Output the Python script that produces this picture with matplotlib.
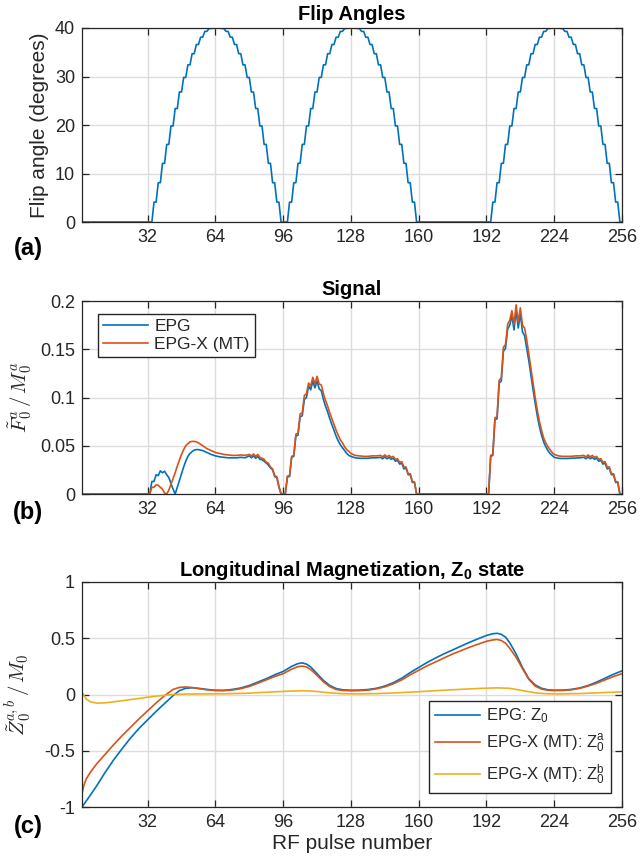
import numpy as np
import matplotlib
matplotlib.use("Agg")
import matplotlib.pyplot as plt
from matplotlib.ticker import FixedLocator, FixedFormatter

# ---------------- data ----------------
pulses = np.arange(1, 257)

# flip-angle lobe (each value held for 2 pulses) and lobe start pulses
lobe_steps = [0, 4.1, 8.1, 12.1, 16.0, 19.8, 23.4, 26.8, 29.8, 32.4, 34.7, 36.6,
              38.1, 39.3, 39.9, 40, 40, 39.9, 39.3, 38.1, 36.6, 34.7, 32.4, 29.8,
              26.8, 23.4, 19.8, 16.0, 12.1, 8.1, 4.1, 0]
lobe_starts = [33, 97, 193]

# Signal, EPG (blue)
sig_epg_n = [1, 33, 34, 35, 36, 37, 38, 39, 40, 41, 42, 43, 44, 45, 46, 47, 48, 49,
             50, 51, 52, 53, 54, 55, 56, 58, 60, 62, 64, 66, 68, 70, 72, 74, 76, 78,
             80, 81, 82, 83, 84, 85, 86, 87, 88, 89, 90, 91, 92, 93, 94, 95,
             97, 98, 99, 100, 101, 102, 103, 104, 105, 106, 107, 108, 109, 110, 111,
             112, 113, 114, 115, 116, 117, 118, 119, 120, 121, 122, 123, 124, 125,
             126, 127, 128, 130, 132, 134, 136, 138, 140, 142, 143, 144, 145, 146,
             147, 148, 149, 150, 151, 152, 153, 154, 155, 156, 157, 158, 159,
             193, 194, 195, 196, 197, 198, 199, 200, 201, 202, 203, 204, 205, 206,
             207, 208, 209, 210, 211, 212, 213, 214, 215, 216, 217, 218, 219, 220,
             221, 222, 223, 224, 226, 228, 230, 232, 234, 236, 238, 239, 240, 241,
             242, 243, 244, 245, 246, 247, 248, 249, 250, 251, 252, 253, 254, 255, 256]
sig_epg_v = [0, 0, 0.013, 0.013, 0.020, 0.019, 0.024, 0.022, 0.0235, 0.020, 0.017,
             0.011, 0.005, 0.0, 0.007, 0.014, 0.021, 0.028, 0.034, 0.039, 0.042,
             0.044, 0.0455, 0.046, 0.046, 0.045, 0.043, 0.041, 0.0395, 0.0385, 0.038,
             0.0375, 0.0375, 0.0375, 0.038, 0.0375, 0.0395, 0.0375, 0.0395, 0.037,
             0.039, 0.036, 0.0355, 0.034, 0.032, 0.030, 0.027, 0.025, 0.018, 0.017,
             0.007, 0.0,
             0.0, 0.018, 0.018, 0.038, 0.039, 0.060, 0.061, 0.080, 0.081, 0.098,
             0.100, 0.112, 0.108, 0.117, 0.110, 0.117, 0.109, 0.107, 0.098, 0.091,
             0.085, 0.078, 0.072, 0.066, 0.060, 0.055, 0.051, 0.048, 0.045, 0.042,
             0.040, 0.039, 0.0375, 0.037, 0.037, 0.037, 0.0375, 0.0375, 0.038,
             0.0365, 0.0385, 0.0365, 0.038, 0.036, 0.037, 0.034, 0.035, 0.031, 0.032,
             0.026, 0.027, 0.020, 0.020, 0.012, 0.012, 0.0,
             0.0, 0.039, 0.040, 0.077, 0.078, 0.115, 0.117, 0.148, 0.151, 0.171,
             0.175, 0.185, 0.170, 0.190, 0.172, 0.187, 0.168, 0.164, 0.151, 0.138,
             0.123, 0.108, 0.094, 0.081, 0.070, 0.061, 0.054, 0.049, 0.045, 0.042,
             0.040, 0.038, 0.037, 0.0368, 0.0368, 0.037, 0.0373, 0.0375, 0.038,
             0.0365, 0.0385, 0.0365, 0.038, 0.036, 0.037, 0.034, 0.035, 0.031, 0.032,
             0.026, 0.027, 0.020, 0.020, 0.012, 0.012, 0.0, 0.0]

# Signal, EPG-X (MT) (orange)
sig_mt_n = [1, 33, 34, 35, 36, 37, 38, 39, 40, 41, 42, 43, 44, 45, 46, 47, 48, 49,
            50, 51, 52, 53, 54, 55, 56, 58, 60, 62, 64, 66, 68, 70, 72, 74, 76, 78,
            80, 81, 82, 83, 84, 85, 86, 87, 88, 89, 90, 91, 92, 93, 94, 95,
            97, 98, 99, 100, 101, 102, 103, 104, 105, 106, 107, 108, 109, 110, 111,
            112, 113, 114, 115, 116, 117, 118, 119, 120, 121, 122, 123, 124, 125,
            126, 127, 128, 130, 132, 134, 136, 138, 140, 142, 143, 144, 145, 146,
            147, 148, 149, 150, 151, 152, 153, 154, 155, 156, 157, 158, 159,
            193, 194, 195, 196, 197, 198, 199, 200, 201, 202, 203, 204, 205, 206,
            207, 208, 209, 210, 211, 212, 213, 214, 215, 216, 217, 218, 219, 220,
            221, 222, 223, 224, 226, 228, 230, 232, 234, 236, 238, 239, 240, 241,
            242, 243, 244, 245, 246, 247, 248, 249, 250, 251, 252, 253, 254, 255, 256]
sig_mt_v = [0, 0, 0.007, 0.007, 0.0095, 0.009, 0.007, 0.005, 0.001, 0.0, 0.004,
            0.010, 0.016, 0.022, 0.029, 0.035, 0.041, 0.046, 0.050, 0.052, 0.054,
            0.0545, 0.0545, 0.054, 0.053, 0.050, 0.047, 0.045, 0.043, 0.042, 0.041,
            0.0405, 0.040, 0.040, 0.0405, 0.040, 0.041, 0.0395, 0.0415, 0.039, 0.041,
            0.038, 0.037, 0.036, 0.033, 0.032, 0.028, 0.026, 0.019, 0.018, 0.008, 0.0,
            0.0, 0.0185, 0.019, 0.039, 0.040, 0.062, 0.063, 0.083, 0.084, 0.102,
            0.104, 0.115, 0.112, 0.121, 0.114, 0.122, 0.114, 0.113, 0.104, 0.097,
            0.091, 0.084, 0.078, 0.072, 0.066, 0.061, 0.056, 0.053, 0.049, 0.046,
            0.044, 0.042, 0.040, 0.0395, 0.039, 0.039, 0.0395, 0.0395, 0.040,
            0.0385, 0.0405, 0.0385, 0.040, 0.038, 0.039, 0.036, 0.0365, 0.033,
            0.0335, 0.028, 0.028, 0.021, 0.021, 0.013, 0.0125, 0.0,
            0.0, 0.040, 0.041, 0.079, 0.080, 0.118, 0.120, 0.152, 0.155, 0.176,
            0.180, 0.190, 0.176, 0.196, 0.178, 0.193, 0.175, 0.172, 0.160, 0.145,
            0.130, 0.115, 0.100, 0.087, 0.075, 0.066, 0.058, 0.053, 0.049, 0.046,
            0.043, 0.041, 0.0395, 0.039, 0.039, 0.039, 0.0395, 0.0395, 0.040,
            0.0385, 0.0405, 0.0385, 0.040, 0.038, 0.039, 0.036, 0.0365, 0.033,
            0.0335, 0.028, 0.028, 0.021, 0.021, 0.013, 0.0125, 0.0, 0.0]

# Longitudinal magnetization
z_epg_n = [1, 4, 8, 12, 16, 20, 24, 28, 32, 36, 40, 44, 47, 50, 53, 56, 60, 64, 68,
           72, 76, 80, 84, 88, 92, 96, 100, 103, 105, 107, 109, 112, 115, 118, 121,
           124, 128, 132, 136, 140, 144, 148, 152, 156, 160, 164, 168, 172, 176, 180,
           184, 188, 192, 195, 197, 199, 201, 203, 206, 209, 212, 215, 218, 221, 224,
           228, 232, 236, 240, 244, 248, 252, 256]
z_epg_v = [-1.0, -0.92, -0.81, -0.69, -0.58, -0.48, -0.385, -0.30, -0.225, -0.15,
           -0.08, -0.01, 0.035, 0.055, 0.06, 0.055, 0.045, 0.038, 0.037, 0.045,
           0.058, 0.08, 0.11, 0.14, 0.175, 0.205, 0.25, 0.275, 0.281, 0.27, 0.245,
           0.185, 0.125, 0.08, 0.053, 0.042, 0.038, 0.039, 0.044, 0.055, 0.075,
           0.105, 0.145, 0.195, 0.24, 0.285, 0.325, 0.362, 0.396, 0.43, 0.464,
           0.495, 0.525, 0.54, 0.544, 0.535, 0.51, 0.46, 0.36, 0.24, 0.14, 0.085,
           0.055, 0.042, 0.038, 0.039, 0.045, 0.058, 0.08, 0.11, 0.145, 0.18, 0.21]

z_mta_n = [1, 2, 3, 5, 8, 12, 16, 20, 24, 28, 32, 36, 40, 44, 47, 50, 53, 56, 60,
           64, 68, 72, 76, 80, 84, 88, 92, 96, 100, 103, 105, 107, 109, 112, 115,
           118, 121, 124, 128, 132, 136, 140, 144, 148, 152, 156, 160, 164, 168, 172,
           176, 180, 184, 188, 192, 195, 197, 199, 201, 203, 206, 209, 212, 215, 218,
           221, 224, 228, 232, 236, 240, 244, 248, 252, 256]
z_mta_v = [-0.88, -0.80, -0.75, -0.69, -0.615, -0.53, -0.445, -0.365, -0.29, -0.215,
           -0.145, -0.075, -0.01, 0.045, 0.063, 0.067, 0.062, 0.052, 0.042, 0.035,
           0.034, 0.04, 0.052, 0.072, 0.1, 0.13, 0.16, 0.185, 0.225, 0.248, 0.252,
           0.245, 0.222, 0.17, 0.113, 0.07, 0.045, 0.036, 0.033, 0.034, 0.039, 0.05,
           0.068, 0.095, 0.13, 0.175, 0.215, 0.255, 0.29, 0.325, 0.36, 0.39, 0.42,
           0.447, 0.473, 0.485, 0.489, 0.48, 0.456, 0.41, 0.33, 0.23, 0.135, 0.075,
           0.048, 0.038, 0.035, 0.036, 0.042, 0.054, 0.075, 0.1, 0.13, 0.16, 0.185]

z_mtb_n = [1, 2, 3, 5, 8, 12, 16, 20, 24, 28, 32, 36, 40, 44, 50, 60, 70, 80, 90,
           100, 105, 110, 118, 124, 130, 140, 150, 160, 170, 180, 190, 197, 203, 209,
           215, 220, 226, 235, 245, 256]
z_mtb_v = [0.02, -0.01, -0.04, -0.065, -0.077, -0.074, -0.065, -0.055, -0.045,
           -0.035, -0.024, -0.015, -0.007, 0.0, 0.004, 0.005, 0.007, 0.012, 0.022,
           0.031, 0.033, 0.03, 0.015, 0.007, 0.005, 0.008, 0.015, 0.025, 0.036,
           0.046, 0.055, 0.059, 0.055, 0.035, 0.015, 0.007, 0.005, 0.008, 0.015, 0.024]

xtick_vals = [32, 64, 96, 128, 160, 192, 224, 256]

# ---------------- build flip-angle table ----------------
flip = np.zeros(256)
for s in lobe_starts:
    for k, val in enumerate(lobe_steps):
        for d in (0, 1):
            idx = s + 2 * k + d
            if 1 <= idx <= 256:
                flip[idx - 1] = val

# ---------------- style ----------------
plt.rcParams['font.family'] = ['Liberation Sans', 'DejaVu Sans']
plt.rcParams['mathtext.fontset'] = 'custom'
plt.rcParams['mathtext.rm'] = 'Liberation Sans'
plt.rcParams['mathtext.it'] = 'Liberation Sans:italic'
plt.rcParams['mathtext.bf'] = 'Liberation Sans:bold'

C_BLUE = '#0072BD'
C_ORANGE = '#D95319'
C_YELLOW = '#EDB120'
TXT = '#262626'

fig = plt.figure(figsize=(6.4, 8.57), dpi=100)
H = 857.0
W = 640.0


def make_ax(top_px, bot_px):
    left, right = 82, 622
    return fig.add_axes([left / W, 1 - bot_px / H, (right - left) / W,
                         (bot_px - top_px) / H])


def style(ax, yticks, ylabels):
    ax.set_xlim(1, 256)
    ax.xaxis.set_major_locator(FixedLocator(xtick_vals))
    ax.xaxis.set_major_formatter(FixedFormatter([str(v) for v in xtick_vals]))
    ax.yaxis.set_major_locator(FixedLocator(yticks))
    ax.yaxis.set_major_formatter(FixedFormatter(ylabels))
    ax.set_ylim(yticks[0], yticks[-1])
    ax.grid(True, color='#dcdcdc', linewidth=1.0)
    ax.set_axisbelow(True)
    ax.tick_params(direction='in', top=True, right=True, length=5, width=0.9,
                   labelsize=13, colors=TXT, pad=5)
    for sp in ax.spines.values():
        sp.set_color('#262626')
        sp.set_linewidth(0.9)


# (a) flip angles
ax1 = make_ax(28, 222)
ax1.plot(pulses, flip, color=C_BLUE, lw=1.2)
style(ax1, [0, 10, 20, 30, 40], ['0', '10', '20', '30', '40'])
ax1.set_title('Flip Angles', fontsize=14.5, fontweight='bold', pad=6, color='black')
ax1.set_ylabel('Flip angle (degrees)', fontsize=15, color=TXT)
ax1.yaxis.set_label_coords(-0.061, 0.5)

# (b) signal
ax2 = make_ax(301, 494)
ax2.plot(sig_epg_n, sig_epg_v, color=C_BLUE, lw=1.2, label='EPG')
ax2.plot(sig_mt_n, sig_mt_v, color=C_ORANGE, lw=1.2, label='EPG-X (MT)')
style(ax2, [0, 0.05, 0.1, 0.15, 0.2], ['0', '0.05', '0.1', '0.15', '0.2'])
ax2.set_title('Signal', fontsize=14.5, fontweight='bold', pad=4, color='black')
ax2.set_ylabel(r'$\tilde{F}_0^a\,/\,M_0^a$', fontsize=15, color=TXT,
               math_fontfamily='cm')
ax2.yaxis.set_label_coords(-0.088, 0.5)
leg2 = ax2.legend(loc='upper left', bbox_to_anchor=(0.0296, 0.933),
                  borderaxespad=0, fontsize=12.5, frameon=True, fancybox=False,
                  edgecolor='#262626', framealpha=1, handlelength=2.6,
                  handletextpad=0.35, labelspacing=0.15, borderpad=0.3)
leg2.get_frame().set_linewidth(1.0)
for t in leg2.get_texts():
    t.set_color(TXT)

# (c) longitudinal magnetization
ax3 = make_ax(582, 807)
ax3.plot(z_epg_n, z_epg_v, color=C_BLUE, lw=1.2, label=r'EPG: Z$_\mathrm{0}$')
ax3.plot(z_mta_n, z_mta_v, color=C_ORANGE, lw=1.2,
         label=r'EPG-X (MT): Z$_\mathrm{0}^\mathrm{a}$')
ax3.plot(z_mtb_n, z_mtb_v, color=C_YELLOW, lw=1.2,
         label=r'EPG-X (MT): Z$_\mathrm{0}^\mathrm{b}$')
style(ax3, [-1, -0.5, 0, 0.5, 1], ['-1', '-0.5', '0', '0.5', '1'])
ax3.set_title(r'Longitudinal Magnetization, $\mathbf{Z_0}$ state', fontsize=14.5,
              fontweight='bold', pad=4, color='black')
ax3.set_ylabel(r'$\tilde{Z}_0^{a,b}\,/\,M_0$', fontsize=15, color=TXT,
               math_fontfamily='cm')
ax3.yaxis.set_label_coords(-0.088, 0.5)
ax3.set_xlabel('RF pulse number', fontsize=15, color=TXT, labelpad=2)
leg3 = ax3.legend(loc='lower left', bbox_to_anchor=(0.6426, 0.062),
                  borderaxespad=0, fontsize=12, frameon=True, fancybox=False,
                  edgecolor='#262626', framealpha=1, handlelength=2.7,
                  handletextpad=0.35, labelspacing=0.45, borderpad=0.35)
leg3.get_frame().set_linewidth(1.0)
for t in leg3.get_texts():
    t.set_color(TXT)

# panel letters
for lab, ypx in (('(a)', 248), ('(b)', 513), ('(c)', 826)):
    fig.text(28 / W, 1 - ypx / H, lab, fontsize=17, fontweight='bold',
             ha='center', va='center', color='black')

fig.savefig('out.png', dpi=100)
